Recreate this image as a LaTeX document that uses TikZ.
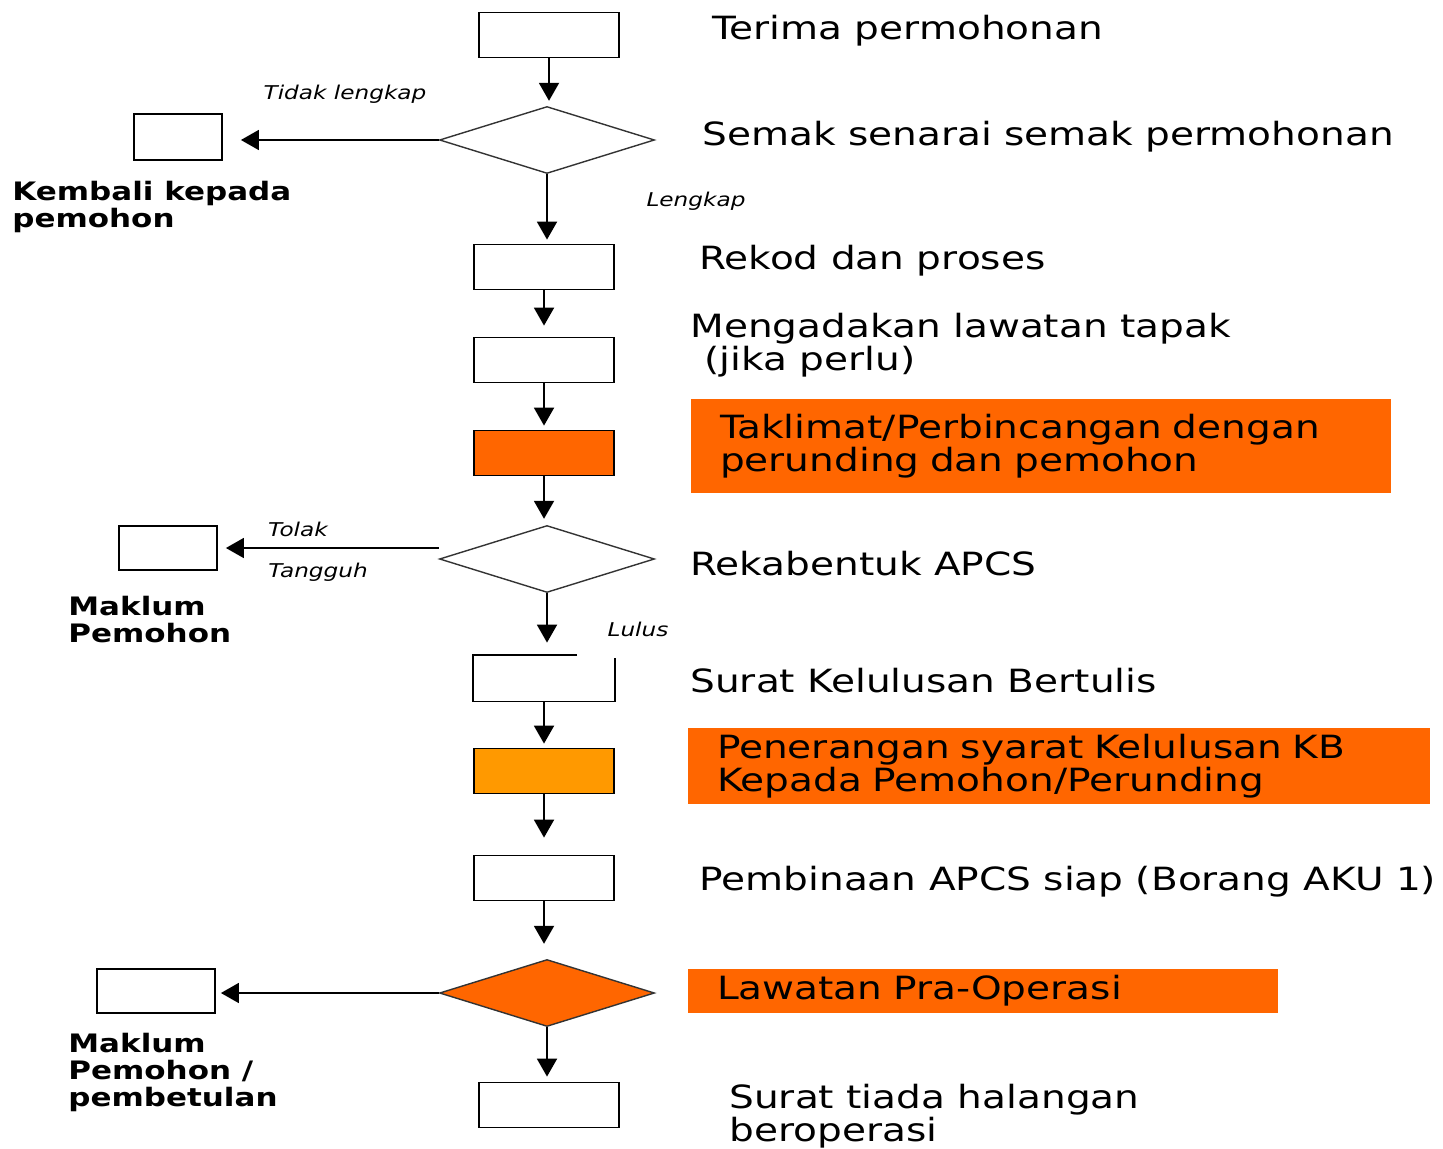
\documentclass[tikz,border=0pt]{standalone}
\usepackage{fontspec}
\setmainfont{DejaVu Sans}[FakeStretch=1.22,
                          BoldFont=DejaVu Sans Bold,
                          ItalicFont=DejaVu Sans Oblique]
\usetikzlibrary{                          % TikZ libraries
                shapes.geometric,         % diamonds
                arrows.meta,              % .
                calc}
\definecolor{oren}{HTML}{FF6600}
\definecolor{orenmuda}{HTML}{FF9900}
\newcommand{\lblfont}{\fontsize{16}{14}\selectfont}
\newcommand{\sidefont}{\fontsize{12.7}{13.5}\selectfont\bfseries}
\newcommand{\kecilfont}{\fontsize{9.5}{10}\selectfont\itshape}

\begin{document}
\begin{tikzpicture}[x=0.5pt,y=-0.5pt,
                    >={Triangle[length=9pt,width=10pt]}
                    ]
                % define styles
\tikzset{box/.style={rectangle,
                       draw=black,
                       fill=white,
                       line width=0.9pt,
                       inner sep=0,
                       minimum width=70pt,
                       minimum height=22.5pt,
                       },
         dec/.style={diamond,
                       draw=black!80,
                       fill=white,
                       line width=0.7pt,
                       inner sep=0,
                       minimum width=107.5pt,
                       minimum height=33.5pt,
                       },
         panel/.style={rectangle,
                       fill=oren,
                       inner xsep=14.5pt,
                       inner ysep=0,
                       align=left,
                       font=\lblfont,
                       },
         lbl/.style={anchor=west, inner sep=0, align=left, font=\lblfont},
         side/.style={anchor=west, inner sep=0, align=left, font=\sidefont},
         kecil/.style={inner sep=0, font=\kecilfont},
         flow/.style={->, line width=1pt}
}

\useasboundingbox (0,0) rectangle (1443,1149);

% main column
\node[box]                          (terima)   at (549,35)   {};
\node[dec]                          (semak)    at (547,140)  {};
\node[box]                          (rekod)    at (544,267)  {};
\node[box]                          (lawatan)  at (544,360)  {};
\node[box,fill=oren]                (taklimat) at (544,453)  {};
\node[dec]                          (rekab)    at (547,559)  {};
\node[box,draw=none]                (surat)    at (544,678)  {};
\node[box,fill=orenmuda]            (syarat)   at (544,771)  {};
\node[box]                          (bina)     at (544,878)  {};
\node[dec,fill=oren]                (prao)     at (547,993)  {};
\node[box]                          (tiada)    at (549,1105) {};

% box with open top corner
\draw[line width=0.9pt] ($(surat.north west)+(104,0)$) -- (surat.north west)
      -- (surat.south west) -- (surat.south east) -- ($(surat.north east)+(0,3)$);

% side boxes
\node[box,minimum width=44pt,minimum height=23pt] (kembali) at (178,137) {};
\node[box,minimum width=49pt,minimum height=22pt] (maklum)  at (168,548) {};
\node[box,minimum width=59pt,minimum height=22pt] (betul)   at (156,991) {};

% arrows
\draw[flow,shorten >=2.5pt] (terima.south)   -- (terima.south |- semak.north);
\draw[flow,shorten >=2pt]   (semak.south)    -- (semak.south |- rekod.north);
\draw[flow,shorten >=5.5pt] (rekod.south)    -- (rekod.south |- lawatan.north);
\draw[flow,shorten >=2pt]   (lawatan.south)  -- (lawatan.south |- taklimat.north);
\draw[flow,shorten >=3pt]   (taklimat.south) -- (taklimat.south |- rekab.north);
\draw[flow,shorten >=6pt]   (rekab.south)    -- (rekab.south |- surat.north);
\draw[flow,shorten >=2pt]   (surat.south)    -- (surat.south |- syarat.north);
\draw[flow,shorten >=8.5pt] (syarat.south)   -- (syarat.south |- bina.north);
\draw[flow,shorten >=7.5pt] (bina.south)     -- (bina.south |- prao.north);
\draw[flow,shorten >=2.5pt] (prao.south)     -- (prao.south |- tiada.north);

\draw[flow,line width=0.8pt,shorten >=9pt]   (semak.west) -- (semak.west -| kembali.east);
\draw[flow,line width=0.8pt,shorten >=4pt]   ([yshift=5.5pt]rekab.west) -- ([yshift=5.5pt]rekab.west -| maklum.east);
\draw[flow,line width=0.8pt,shorten >=2.5pt] (prao.west)  -- (prao.west -| betul.east);

% branch labels
\node[kecil] (tidak)   at (345,94)  {Tidak lengkap};
\node[kecil] (lengkap) at (696,201) {Lengkap};
\node[kecil] (tolak)   at (298,529) {Tolak};
\node[kecil] (tangguh) at (318,572) {Tangguh};
\node[kecil] (lulus)   at (638,629) {Lulus};

% step labels
\node[lbl] (l-terima)  at (712,31)   {Terima permohonan};
\node[lbl] (l-semak)   at (702,137)  {Semak senarai semak permohonan};
\node[lbl] (l-rekod)   at (699,261)  {Rekod dan proses};
\node[lbl] (l-lawatan) at (690,345)  {Mengadakan lawatan tapak\\\hspace*{7pt}(jika perlu)};
\node[panel,minimum width=350pt,minimum height=46.5pt,text width=321pt]
           (p-taklimat) at (1041,446) {Taklimat/Perbincangan dengan\\perunding dan pemohon};
\node[lbl] (l-rekab)   at (690,564)  {Rekabentuk APCS};
\node[lbl] (l-surat)   at (690,681)  {Surat Kelulusan Bertulis};
\node[panel,minimum width=371pt,minimum height=38pt,text width=342pt]
           (p-syarat) at (1059,766) {Penerangan syarat Kelulusan KB\\Kepada Pemohon/Perunding};
\node[lbl] (l-bina)    at (699,882)  {Pembinaan APCS siap (Borang AKU 1)};
\node[panel,minimum width=295pt,minimum height=22pt,text width=266pt]
           (p-prao) at (983,991) {Lawatan Pra-Operasi};
\node[lbl] (l-tiada)   at (729,1116) {Surat tiada halangan\\beroperasi};

% side labels
\node[side] (s-kembali) at (12,207)  {Kembali kepada\\pemohon};
\node[side] (s-maklum)  at (68,620)  {Maklum\\Pemohon};
\node[side] (s-betul)   at (68,1072) {Maklum\\Pemohon /\\pembetulan};

\end{tikzpicture}
\end{document}
